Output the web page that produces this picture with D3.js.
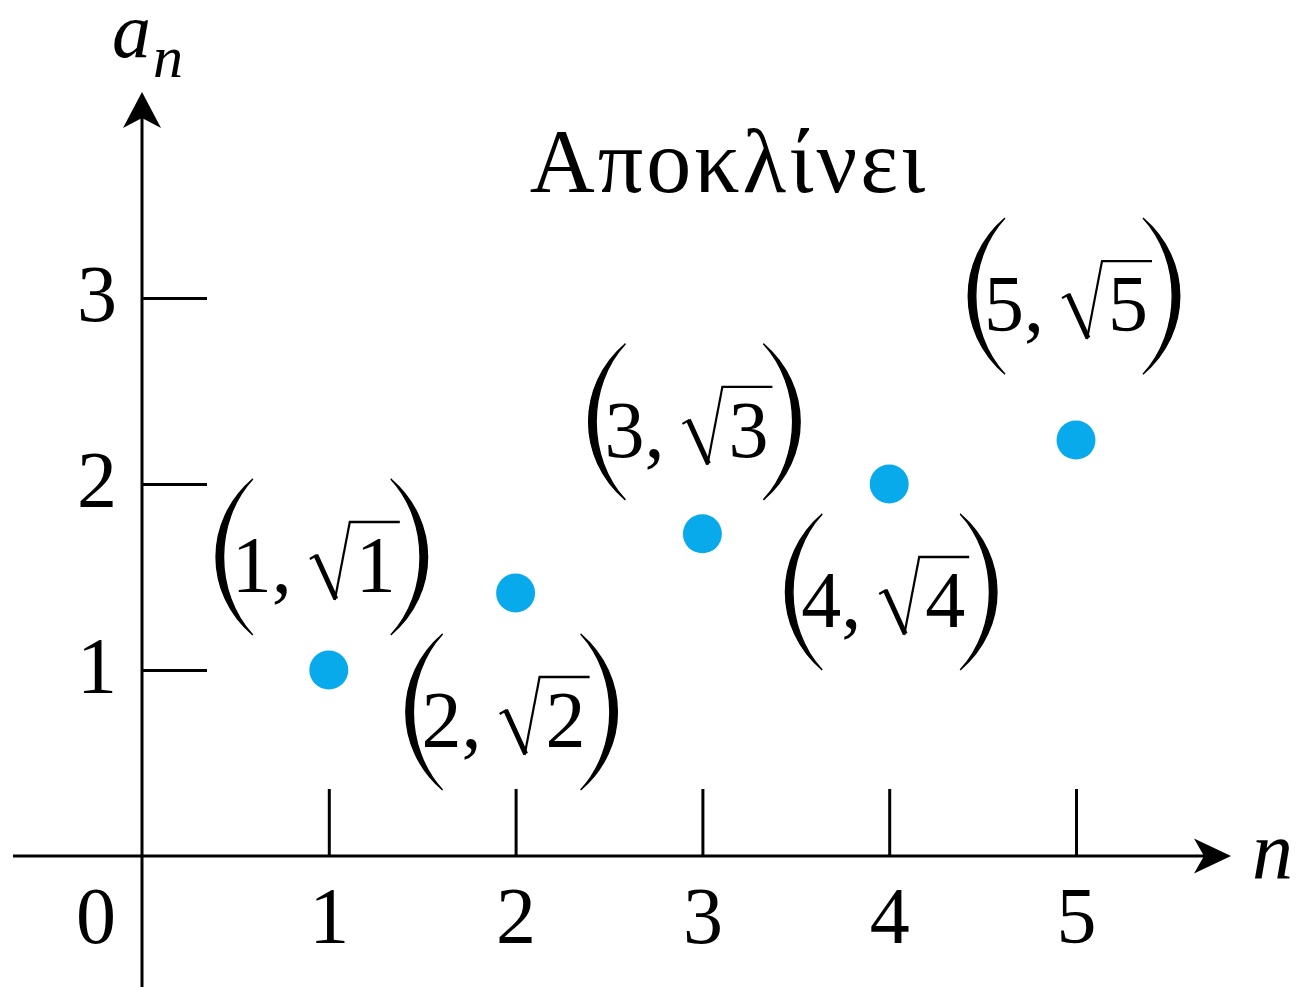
<!DOCTYPE html>
<html>
<head>
<meta charset="utf-8">
<script src="https://cdn.jsdelivr.net/npm/d3@7"></script>
<style>
  html, body { margin: 0; padding: 0; background: #fff; }
  svg { display: block; }
  text { font-family: "Liberation Serif", "Times New Roman", serif; fill: #000; }
</style>
</head>
<body>
<svg id="chart" width="1297" height="987"></svg>
<script>
// Sequence a_n = sqrt(n)
const nValues = [1, 2, 3, 4, 5];
const anValues = [1, 1.414, 1.732, 2, 2.236];
const xTickValues = [1, 2, 3, 4, 5];
const yTickValues = [1, 2, 3];
const pointLabels = ["1", "2", "3", "4", "5"];
const titleText = "Αποκλίνει";

// label centre offsets from each point, in pixels
const labelOffsets = [[-7, -113], [-4, 119], [-8, -112], [2, 108], [-2, -144]];

const W = 1297, H = 987;
const svg = d3.select("#chart");
const ink = "#000";
const dotColor = "#08aaec";
const FS = 80;

const x = d3.scaleLinear().domain([0, 5]).range([142, 1076]);
const y = d3.scaleLinear().domain([0, 3]).range([856, 298]);

const x0 = x(0), y0 = y(0);

// axis lines
svg.append("line")
  .attr("x1", 13).attr("x2", 1222).attr("y1", y0).attr("y2", y0)
  .attr("stroke", ink).attr("stroke-width", 3);
svg.append("line")
  .attr("x1", x0).attr("x2", x0).attr("y1", H).attr("y2", 100)
  .attr("stroke", ink).attr("stroke-width", 3);

// arrowheads (notched)
svg.append("path")
  .attr("d", `M${x0},92 L${x0 + 19},128 L${x0},118 L${x0 - 19},128 Z`)
  .attr("fill", ink);
svg.append("path")
  .attr("d", `M1231,${y0} L1194,${y0 - 17.5} L1204,${y0} L1194,${y0 + 17.5} Z`)
  .attr("fill", ink);

// x axis ticks (pointing up) with labels below
const xAxis = d3.axisBottom(x).tickValues(xTickValues).tickSize(-67).tickPadding(30)
  .tickFormat(d3.format("d"));
const gx = svg.append("g").attr("transform", `translate(0,${y0})`).call(xAxis);
gx.select(".domain").remove();
gx.selectAll(".tick line").attr("stroke", ink).attr("stroke-width", 3);
gx.selectAll(".tick text")
  .attr("font-family", "Liberation Serif, Times New Roman, serif")
  .attr("font-size", FS).attr("fill", ink);

// y axis ticks (pointing right) with labels left
const yAxis = d3.axisLeft(y).tickValues(yTickValues).tickSize(-65).tickPadding(25)
  .tickFormat(d3.format("d"));
const gy = svg.append("g").attr("transform", `translate(${x0},0)`).call(yAxis);
gy.select(".domain").remove();
gy.selectAll(".tick line").attr("stroke", ink).attr("stroke-width", 3);
gy.selectAll(".tick text")
  .attr("font-family", "Liberation Serif, Times New Roman, serif")
  .attr("font-size", FS).attr("fill", ink).attr("dy", "0.28em");

// origin label
svg.append("text").attr("x", 96).attr("y", 943)
  .attr("text-anchor", "middle").attr("font-size", FS).text("0");

// axis names
const an = svg.append("text").attr("x", 112).attr("y", 57)
  .attr("font-style", "italic").attr("font-size", 78);
an.append("tspan").text("a");
an.append("tspan").attr("font-size", 60).attr("dy", 20).attr("dx", 2).text("n");

svg.append("text").attr("x", 1252).attr("y", 878)
  .attr("font-style", "italic").attr("font-size", 82).text("n");

// title
svg.append("text").attr("x", 729).attr("y", 192)
  .attr("text-anchor", "middle").attr("font-size", 90)
  .attr("letter-spacing", 3).text(titleText);

// points
const pts = nValues.map((n, i) => ({ n, v: anValues[i], lab: pointLabels[i], off: labelOffsets[i] }));

svg.append("g").selectAll("circle").data(pts).join("circle")
  .attr("cx", d => x(d.n)).attr("cy", d => y(d.v)).attr("r", 19.5)
  .attr("fill", dotColor);

// tall parenthesis as a filled crescent; dir = 1 for "(", -1 for ")"
function parenPath(px, dir) {
  const w = 37, h = 78;
  const ex = dir === 1 ? px + w : px;          // x of the tips
  const oc = dir === 1 ? px - 12 : px + w + 12; // outer control
  const ic = dir === 1 ? px - 2 : px + w + 2;   // inner control
  return `M${ex},${-h} C${oc},${-h + 42} ${oc},${h - 42} ${ex},${h}` +
         ` C${ic},${h - 42} ${ic},${-h + 42} ${ex},${-h} Z`;
}

// point labels "(n, √n)"
const labels = svg.append("g");
pts.forEach(d => {
  const g = labels.append("g")
    .attr("transform", `translate(${x(d.n) + d.off[0]},${y(d.v) + d.off[1]})`);
  const inner = g.append("g");
  const base = 35;

  inner.append("path").attr("d", parenPath(0, 1))
    .attr("fill", ink).attr("stroke", ink).attr("stroke-width", 1.4);

  const t1 = inner.append("text").attr("x", 16).attr("y", base)
    .attr("font-size", FS).text(d.lab + ",");
  const w1 = t1.node().getComputedTextLength();

  const rx = 16 + w1 + 18;
  const topX = rx + 40, topY = base - 70;
  // radical sign
  inner.append("path")
    .attr("d", `M${rx},${base - 33} L${rx + 7},${base - 37}`)
    .attr("stroke", ink).attr("stroke-width", 2.2).attr("fill", "none");
  inner.append("path")
    .attr("d", `M${rx + 6},${base - 37} L${rx + 26},${base + 7}`)
    .attr("stroke", ink).attr("stroke-width", 5).attr("fill", "none");
  inner.append("path")
    .attr("d", `M${rx + 25},${base + 8} L${topX},${topY}`)
    .attr("stroke", ink).attr("stroke-width", 2.2).attr("fill", "none");

  const t2 = inner.append("text").attr("x", topX + 6).attr("y", base)
    .attr("font-size", FS).text(d.lab);
  const w2 = t2.node().getComputedTextLength();
  const lineEnd = topX + 6 + w2 + 4;
  inner.append("line")
    .attr("x1", topX - 1).attr("x2", lineEnd).attr("y1", topY).attr("y2", topY)
    .attr("stroke", ink).attr("stroke-width", 2.4);

  const rpx = lineEnd - 9;
  inner.append("path").attr("d", parenPath(rpx, -1))
    .attr("fill", ink).attr("stroke", ink).attr("stroke-width", 1.4);

  const total = rpx + 37;
  inner.attr("transform", `translate(${-total / 2},0)`);
});
</script>
</body>
</html>
